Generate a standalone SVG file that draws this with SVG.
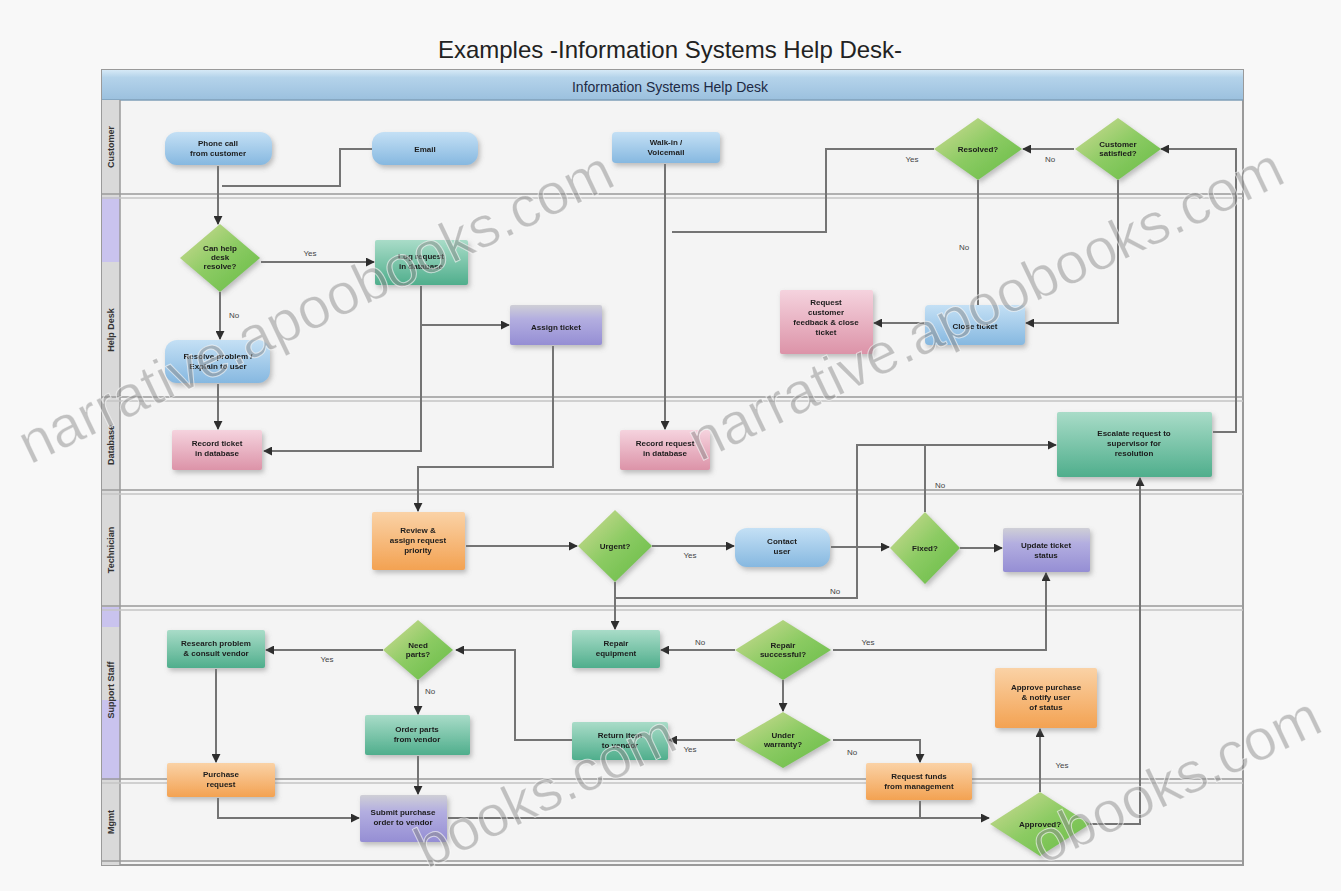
<svg xmlns="http://www.w3.org/2000/svg" width="1341" height="891" viewBox="0 0 1341 891">
<defs>
<style>
.t{font-family:"Liberation Sans",Arial,sans-serif;font-size:8px;font-weight:bold;fill:#1c1c1c;text-anchor:middle}
.title{font-family:"Liberation Sans",Arial,sans-serif;font-size:24px;fill:#222;text-anchor:middle}
.hdr{font-family:"Liberation Sans",Arial,sans-serif;font-size:14px;fill:#1e2a44;text-anchor:middle}
.lane{font-family:"Liberation Sans",Arial,sans-serif;font-size:9px;font-weight:bold;fill:#333;text-anchor:middle}
.lbl{font-family:"Liberation Sans",Arial,sans-serif;font-size:8px;fill:#444;text-anchor:middle}
.wm{font-family:"Liberation Sans",Arial,sans-serif;font-size:58px;fill:#8c8c8c;fill-opacity:0.5;stroke:#ffffff;stroke-width:1;stroke-opacity:0.6}
.c{fill:none;stroke:#747474;stroke-width:2}
.ca{fill:none;stroke:#747474;stroke-width:2;marker-end:url(#ah)}
.ll1{stroke:#9a9a9a;stroke-width:1.5}
.ll2{stroke:#c4c4c4;stroke-width:1.5}
.blue{fill:url(#gBlue)}
.green{fill:url(#gGreen)}
.teal{fill:url(#gTeal)}
.pink{fill:url(#gPink)}
.purple{fill:url(#gPurple)}
.orange{fill:url(#gOrange)}
.sh{filter:url(#ds)}
</style>
<linearGradient id="gBlue" x1="0" y1="0" x2="0" y2="1"><stop offset="0" stop-color="#c4e0f5"/><stop offset="1" stop-color="#86b8e0"/></linearGradient>
<linearGradient id="gGreen" x1="0" y1="0" x2="1" y2="1"><stop offset="0" stop-color="#d4dc98"/><stop offset="0.5" stop-color="#8ccb63"/><stop offset="1" stop-color="#66bb45"/></linearGradient>
<linearGradient id="gTeal" x1="0" y1="0" x2="0" y2="1"><stop offset="0" stop-color="#a9dcc8"/><stop offset="1" stop-color="#4fae8c"/></linearGradient>
<linearGradient id="gPink" x1="0" y1="0" x2="0" y2="1"><stop offset="0" stop-color="#f5d3de"/><stop offset="1" stop-color="#dc93a8"/></linearGradient>
<linearGradient id="gPurple" x1="0" y1="0" x2="0" y2="1"><stop offset="0" stop-color="#cfcfd6"/><stop offset="0.35" stop-color="#b3aee0"/><stop offset="1" stop-color="#958ed4"/></linearGradient>
<linearGradient id="gOrange" x1="0" y1="0" x2="0" y2="1"><stop offset="0" stop-color="#fad2a6"/><stop offset="1" stop-color="#f3a252"/></linearGradient>
<linearGradient id="gHdr" x1="0" y1="0" x2="0" y2="1"><stop offset="0" stop-color="#d6e9f6"/><stop offset="0.25" stop-color="#b4d3ea"/><stop offset="1" stop-color="#9bc0de"/></linearGradient>
<filter id="ds" x="-20%" y="-20%" width="140%" height="150%"><feDropShadow dx="2" dy="3" stdDeviation="2.5" flood-color="#777" flood-opacity="0.45"/></filter>
<marker id="ah" viewBox="0 0 10 10" refX="9" refY="5" markerUnits="userSpaceOnUse" markerWidth="9" markerHeight="9" orient="auto"><path d="M0,0 L10,5 L0,10 z" fill="#2e2e2e"/></marker>
</defs>

<rect x="0" y="0" width="1341" height="891" fill="#f8f8f8"/>
<text class="title" x="670" y="58">Examples -Information Systems Help Desk-</text>

<g id="pool">
<rect x="102" y="70" width="1141" height="795" fill="#f4f4f4" stroke="#9a9a9a" stroke-width="2"/>
<rect x="102" y="70" width="1141" height="30" fill="url(#gHdr)"/>
<line x1="102" y1="100" x2="1243" y2="100" stroke="#7f9fb8" stroke-width="1.5"/>
<text class="hdr" x="670" y="92">Information Systems Help Desk</text>
<rect x="102" y="100" width="18" height="765" fill="#d9d9d9"/>
<rect x="102" y="197" width="18" height="65" fill="#c9c3ee"/>
<rect x="102" y="607" width="18" height="20" fill="#c9c3ee"/>
<rect x="102" y="700" width="18" height="80" fill="#c9c3ee"/>
<line x1="120" y1="100" x2="120" y2="865" stroke="#9a9a9a" stroke-width="1.5"/>
</g>

<g id="lanes">
<line class="ll1" x1="102" y1="194" x2="1243" y2="194"/><line class="ll2" x1="102" y1="198" x2="1243" y2="198"/>
<line class="ll1" x1="102" y1="397" x2="1243" y2="397"/><line class="ll2" x1="102" y1="401" x2="1243" y2="401"/>
<line class="ll1" x1="102" y1="490" x2="1243" y2="490"/><line class="ll2" x1="102" y1="494" x2="1243" y2="494"/>
<line class="ll1" x1="102" y1="606" x2="1243" y2="606"/><line class="ll2" x1="102" y1="610" x2="1243" y2="610"/>
<line class="ll1" x1="102" y1="779" x2="1243" y2="779"/><line class="ll2" x1="102" y1="783" x2="1243" y2="783"/>
<line class="ll1" x1="102" y1="861" x2="1243" y2="861"/>
<text class="lane" transform="translate(114,147) rotate(-90)">Customer</text>
<text class="lane" transform="translate(114,330) rotate(-90)">Help Desk</text>
<text class="lane" transform="translate(114,445) rotate(-90)">Database</text>
<text class="lane" transform="translate(114,550) rotate(-90)">Technician</text>
<text class="lane" transform="translate(114,690) rotate(-90)">Support Staff</text>
<text class="lane" transform="translate(114,822) rotate(-90)">Mgmt</text>
</g>

<g id="connectors">
<path class="ca" d="M218,166 V224"/>
<path class="c" d="M372,149 H340 V186 H222"/>
<path class="ca" d="M261,262 H374"/>
<path class="ca" d="M220,292 V339"/>
<path class="ca" d="M218,384 V429"/>
<path class="ca" d="M421,286 V451 H264"/>
<path class="ca" d="M421,325 H509"/>
<path class="ca" d="M553,346 V467 H418 V511"/>
<path class="ca" d="M665,164 V429"/>
<path class="c" d="M934,149 H826 V232 H672"/>
<path class="ca" d="M1074,149 H1023"/>
<path class="ca" d="M1213,432 H1236 V149 H1161"/>
<path class="ca" d="M978,180 V319"/>
<path class="ca" d="M1118,180 V323 H1026"/>
<path class="ca" d="M924,323 H874"/>
<path class="ca" d="M466,546 H577"/>
<path class="ca" d="M652,546 H734"/>
<path class="ca" d="M831,547 H889"/>
<path class="ca" d="M960,548 H1002"/>
<path class="ca" d="M615,582 V598 H857 V445 H1056"/>
<path class="c" d="M925,512 V445"/>
<path class="ca" d="M615,582 V629"/>
<path class="ca" d="M833,650 H1046 V573"/>
<path class="ca" d="M735,650 H661"/>
<path class="ca" d="M783,680 V711"/>
<path class="ca" d="M735,740 H669"/>
<path class="ca" d="M572,740 H515 V650 H456"/>
<path class="ca" d="M833,740 H920 V762"/>
<path class="ca" d="M383,650 H266"/>
<path class="ca" d="M418,680 V714"/>
<path class="ca" d="M418,756 V794"/>
<path class="ca" d="M216,669 V762"/>
<path class="ca" d="M218,798 V818 H359"/>
<path class="ca" d="M448,818 H989"/>
<path class="c" d="M920,801 V818"/>
<path class="ca" d="M1040,792 V729"/>
<path class="ca" d="M1090,824 H1140 V478"/>
<text class="lbl" x="310" y="256">Yes</text>
<text class="lbl" x="234" y="318">No</text>
<text class="lbl" x="912" y="162">Yes</text>
<text class="lbl" x="1050" y="162">No</text>
<text class="lbl" x="964" y="250">No</text>
<text class="lbl" x="690" y="558">Yes</text>
<text class="lbl" x="835" y="594">No</text>
<text class="lbl" x="940" y="488">No</text>
<text class="lbl" x="868" y="645">Yes</text>
<text class="lbl" x="700" y="645">No</text>
<text class="lbl" x="690" y="752">Yes</text>
<text class="lbl" x="852" y="755">No</text>
<text class="lbl" x="327" y="662">Yes</text>
<text class="lbl" x="430" y="694">No</text>
<text class="lbl" x="1062" y="768">Yes</text>
</g>

<g id="n1" class="sh"><rect class="blue" x="165" y="132" width="107" height="33" rx="12"/><text class="t" x="218" y="146">Phone call<tspan x="218" dy="10">from customer</tspan></text></g>
<g id="n2" class="sh"><rect class="blue" x="372" y="132" width="106" height="33" rx="12"/><text class="t" x="425" y="152">Email</text></g>
<g id="n3" class="sh"><rect class="blue" x="612" y="132" width="108" height="31" rx="4"/><text class="t" x="666" y="145">Walk-in /<tspan x="666" dy="10">Voicemail</tspan></text></g>
<g id="n4" class="sh"><polygon class="green" points="978,118 1022,149 978,180 934,149"/><text class="t" x="978" y="152">Resolved?</text></g>
<g id="n5" class="sh"><polygon class="green" points="1118,118 1161,149 1118,180 1075,149"/><text class="t" x="1118" y="147">Customer<tspan x="1118" dy="9">satisfied?</tspan></text></g>

<g id="n6" class="sh"><polygon class="green" points="220,224 260,258 220,292 180,258"/><text class="t" x="220" y="251">Can help<tspan x="220" dy="9">desk</tspan><tspan x="220" dy="9">resolve?</tspan></text></g>
<g id="n7" class="sh"><rect class="teal" x="375" y="240" width="93" height="45" rx="2"/><text class="t" x="421" y="259">Log request<tspan x="421" dy="10">in database</tspan></text></g>
<g id="n8" class="sh"><rect class="purple" x="510" y="305" width="92" height="40" rx="2"/><text class="t" x="556" y="330">Assign ticket</text></g>
<g id="n9" class="sh"><rect class="blue" x="165" y="340" width="105" height="43" rx="12"/><text class="t" x="218" y="359">Resolve problem /<tspan x="218" dy="10">Explain to user</tspan></text></g>
<g id="n10" class="sh"><rect class="pink" x="780" y="290" width="93" height="64" rx="2"/><text class="t" x="826" y="305">Request<tspan x="826" dy="10">customer</tspan><tspan x="826" dy="10">feedback &amp; close</tspan><tspan x="826" dy="10">ticket</tspan></text></g>
<g id="n11" class="sh"><rect class="blue" x="925" y="305" width="100" height="40" rx="4"/><text class="t" x="975" y="329">Close ticket</text></g>

<g id="n12" class="sh"><rect class="pink" x="172" y="430" width="90" height="40" rx="2"/><text class="t" x="217" y="446">Record ticket<tspan x="217" dy="10">in database</tspan></text></g>
<g id="n13" class="sh"><rect class="pink" x="620" y="430" width="90" height="40" rx="2"/><text class="t" x="665" y="446">Record request<tspan x="665" dy="10">in database</tspan></text></g>
<g id="n14" class="sh"><rect class="teal" x="1057" y="412" width="155" height="65" rx="2"/><text class="t" x="1134" y="436">Escalate request to<tspan x="1134" dy="10">supervisor for</tspan><tspan x="1134" dy="10">resolution</tspan></text></g>

<g id="n15" class="sh"><rect class="orange" x="372" y="512" width="93" height="58" rx="2"/><text class="t" x="418" y="533">Review &amp;<tspan x="418" dy="10">assign request</tspan><tspan x="418" dy="10">priority</tspan></text></g>
<g id="n16" class="sh"><polygon class="green" points="615,510 652,546 615,582 578,546"/><text class="t" x="615" y="549">Urgent?</text></g>
<g id="n17" class="sh"><rect class="blue" x="735" y="528" width="95" height="39" rx="12"/><text class="t" x="782" y="544">Contact<tspan x="782" dy="10">user</tspan></text></g>
<g id="n18" class="sh"><polygon class="green" points="925,512 960,548 925,584 890,548"/><text class="t" x="925" y="551">Fixed?</text></g>
<g id="n19" class="sh"><rect class="purple" x="1003" y="528" width="87" height="44" rx="2"/><text class="t" x="1046" y="548">Update ticket<tspan x="1046" dy="10">status</tspan></text></g>

<g id="n20" class="sh"><rect class="teal" x="167" y="630" width="98" height="38" rx="2"/><text class="t" x="216" y="646">Research problem<tspan x="216" dy="10">&amp; consult vendor</tspan></text></g>
<g id="n21" class="sh"><polygon class="green" points="418,620 453,650 418,680 383,650"/><text class="t" x="418" y="648">Need<tspan x="418" dy="9">parts?</tspan></text></g>
<g id="n22" class="sh"><rect class="teal" x="572" y="630" width="88" height="38" rx="2"/><text class="t" x="616" y="646">Repair<tspan x="616" dy="10">equipment</tspan></text></g>
<g id="n23" class="sh"><polygon class="green" points="783,620 831,650 783,680 735,650"/><text class="t" x="783" y="648">Repair<tspan x="783" dy="9">successful?</tspan></text></g>
<g id="n24" class="sh"><rect class="teal" x="365" y="715" width="105" height="40" rx="2"/><text class="t" x="417" y="732">Order parts<tspan x="417" dy="10">from vendor</tspan></text></g>
<g id="n25" class="sh"><rect class="teal" x="572" y="722" width="96" height="38" rx="2"/><text class="t" x="620" y="738">Return item<tspan x="620" dy="10">to vendor</tspan></text></g>
<g id="n26" class="sh"><polygon class="green" points="783,712 831,740 783,768 735,740"/><text class="t" x="783" y="738">Under<tspan x="783" dy="9">warranty?</tspan></text></g>
<g id="n27" class="sh"><rect class="orange" x="995" y="668" width="102" height="60" rx="2"/><text class="t" x="1046" y="690">Approve purchase<tspan x="1046" dy="10">&amp; notify user</tspan><tspan x="1046" dy="10">of status</tspan></text></g>
<g id="n28" class="sh"><rect class="orange" x="167" y="763" width="108" height="34" rx="2"/><text class="t" x="221" y="777">Purchase<tspan x="221" dy="10">request</tspan></text></g>
<g id="n29" class="sh"><rect class="orange" x="866" y="763" width="106" height="37" rx="2"/><text class="t" x="919" y="779">Request funds<tspan x="919" dy="10">from management</tspan></text></g>

<g id="n30" class="sh"><rect class="purple" x="360" y="795" width="87" height="47" rx="2"/><text class="t" x="403" y="815">Submit purchase<tspan x="403" dy="10">order to vendor</tspan></text></g>
<g id="n31" class="sh"><polygon class="green" points="1040,792 1090,824 1040,856 990,824"/><text class="t" x="1040" y="827">Approved?</text></g>

<g id="watermark">
<text class="wm" transform="translate(30,465) rotate(-25.5)">narrative.apoobooks.com</text>
<text class="wm" transform="translate(700,462) rotate(-25.5)">narrative.apoobooks.com</text>
<text class="wm" transform="translate(427,869) rotate(-25.5)">books.com</text>
<text class="wm" transform="translate(1043,865) rotate(-25.5)">obooks.com</text>
</g>
</svg>
